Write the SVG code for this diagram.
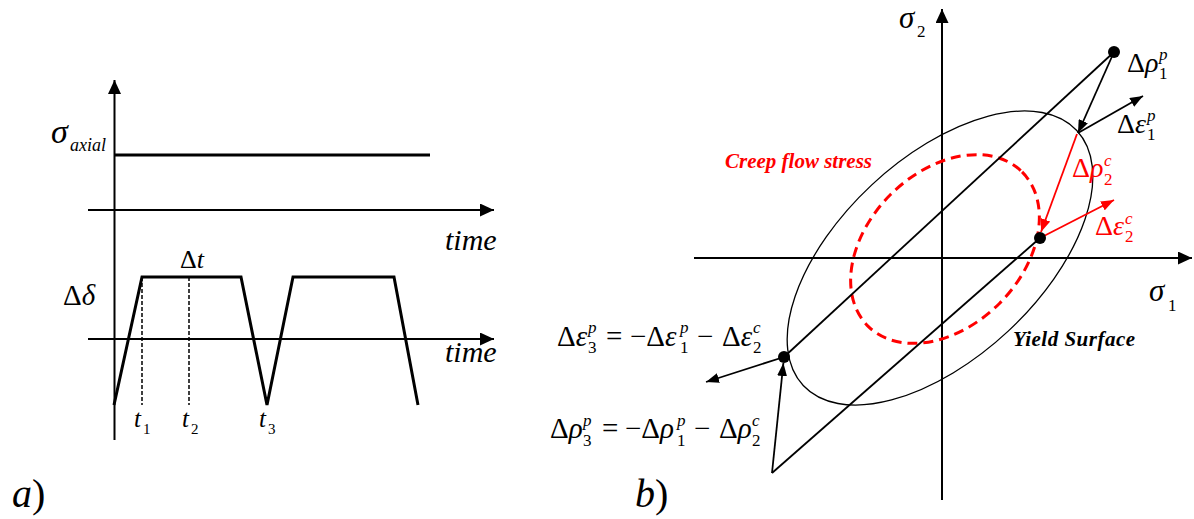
<svg xmlns="http://www.w3.org/2000/svg" width="1194" height="519" viewBox="0 0 1194 519">
<style>
text{font-family:"Liberation Serif","Times New Roman",serif;fill:#000}
.it{font-style:italic}
.ax{stroke:#000;stroke-width:2;fill:none}
.thick{stroke:#000;stroke-width:3;fill:none}
.thin{stroke:#000;stroke-width:1.8;fill:none}
.red{stroke:#ff0000;stroke-width:1.8;fill:none}
.rt{fill:#ff0000}
.sc{font-size:17px}
.eq{font-size:29px}
.lb{font-size:28px}
</style>
<defs>
<marker id="ah" markerUnits="userSpaceOnUse" markerWidth="14" markerHeight="13" refX="14" refY="6.5" orient="auto"><path d="M0,0 L14,6.5 L0,13 z" fill="#000"/></marker>
<marker id="sa" markerUnits="userSpaceOnUse" markerWidth="13" markerHeight="10" refX="13" refY="5" orient="auto"><path d="M0,0 L13,5 L0,10 z" fill="#000"/></marker>
<marker id="ra" markerUnits="userSpaceOnUse" markerWidth="13" markerHeight="10" refX="13" refY="5" orient="auto"><path d="M0,0 L13,5 L0,10 z" fill="#ff0000"/></marker>
</defs>

<g id="panel-a">
  <g id="axes-a">
    <line class="ax" x1="114.5" y1="440" x2="114.5" y2="80" marker-end="url(#ah)"/>
    <line class="ax" x1="88" y1="210" x2="494" y2="210" marker-end="url(#ah)"/>
    <line class="ax" x1="88" y1="339" x2="494" y2="339" marker-end="url(#ah)"/>
  </g>
  <line id="axial-stress" class="thick" x1="114.5" y1="155" x2="430" y2="155"/>
  <polyline id="waveform" class="thick" points="114,405 142,277 241,277 267,405 293,277 394,277 418,405"/>
  <g id="dashes">
    <line x1="142" y1="277" x2="142" y2="405" stroke="#000" stroke-width="1.5" stroke-dasharray="4,2"/>
    <line x1="189" y1="277" x2="189" y2="405" stroke="#000" stroke-width="1.5" stroke-dasharray="4,2"/>
  </g>
  <g id="labels-a">
    <text x="51" y="143" class="it" font-size="34">σ</text>
    <text x="70" y="151" class="it" font-size="18">axial</text>
    <text x="445" y="250" class="it" font-size="30">time</text>
    <text x="445" y="362" class="it" font-size="30">time</text>
    <text x="180" y="268" font-size="26">Δ<tspan class="it">t</tspan></text>
    <text x="63" y="305" font-size="29">Δ<tspan class="it">δ</tspan></text>
    <text x="134" y="427" class="it" font-size="25">t</text><text x="143" y="434" font-size="15">1</text>
    <text x="182" y="427" class="it" font-size="25">t</text><text x="191" y="434" font-size="15">2</text>
    <text x="259" y="427" class="it" font-size="25">t</text><text x="268" y="434" font-size="15">3</text>
    <text x="12" y="507" font-size="40"><tspan class="it">a</tspan>)</text>
  </g>
</g>

<g id="panel-b">
  <g id="axes-b">
    <line class="ax" x1="942" y1="500" x2="942" y2="9" marker-end="url(#ah)"/>
    <line class="ax" x1="694" y1="258" x2="1192" y2="258" marker-end="url(#ah)"/>
  </g>
  <g id="yield-surface">
    <ellipse cx="940" cy="258" rx="187" ry="100" transform="rotate(-43 940 258)" fill="none" stroke="#000" stroke-width="1.3"/>
  </g>
  <g id="creep-surface">
    <ellipse cx="945" cy="249" rx="109" ry="77" transform="rotate(-45 945 249)" fill="none" stroke="#ff0000" stroke-width="3" stroke-dasharray="10,6"/>
  </g>
  <g id="connectors">
    <line class="thin" x1="1114" y1="52" x2="784" y2="357"/>
    <line class="thin" x1="772" y1="473" x2="1040" y2="238"/>
    <line class="thin" x1="772" y1="473" x2="783.4" y2="363" marker-end="url(#sa)"/>
    <line class="thin" x1="784" y1="357" x2="706" y2="382" marker-end="url(#sa)"/>
    <line class="thin" x1="1114" y1="52" x2="1078" y2="133" marker-end="url(#sa)"/>
    <line class="thin" x1="1078" y1="133" x2="1143" y2="96" marker-end="url(#sa)"/>
    <line class="red" x1="1077" y1="134" x2="1041" y2="232" marker-end="url(#ra)"/>
    <line class="red" x1="1040" y1="238" x2="1114" y2="200" marker-end="url(#ra)"/>
  </g>
  <g id="points">
    <circle cx="1114" cy="52" r="6" fill="#000"/>
    <circle cx="1040" cy="238" r="6" fill="#000"/>
    <circle cx="784" cy="357" r="6" fill="#000"/>
  </g>
  <g id="labels-b">
    <text x="899" y="28" class="it" font-size="31">σ</text><text x="917" y="37" class="sc">2</text>
    <text x="1149" y="301" class="it" font-size="31">σ</text><text x="1168" y="311" class="sc">1</text>
    <text x="725" y="168" font-size="21" font-weight="bold" class="it rt">Creep flow stress</text>
    <text x="1013" y="346" font-size="21" font-weight="bold" class="it" letter-spacing="0.5">Yield Surface</text>
    <text class="lb" x="1127" y="72">Δ<tspan class="it">ρ</tspan><tspan class="sc it" x="1159" y="60">p</tspan><tspan class="sc" x="1159" y="79">1</tspan></text>
    <text class="lb" x="1117" y="133">Δ<tspan class="it">ε</tspan><tspan class="sc it" x="1147" y="121">p</tspan><tspan class="sc" x="1147" y="140">1</tspan></text>
    <text class="lb rt" x="1072" y="177">Δ<tspan class="it">ρ</tspan><tspan class="sc it" x="1104" y="166">c</tspan><tspan class="sc" x="1104" y="185">2</tspan></text>
    <text class="lb rt" x="1095" y="235">Δ<tspan class="it">ε</tspan><tspan class="sc it" x="1125" y="224">c</tspan><tspan class="sc" x="1125" y="242">2</tspan></text>
    <text class="eq" y="346"><tspan x="557">Δ</tspan><tspan class="it">ε</tspan><tspan class="sc it" x="588" y="333">p</tspan><tspan class="sc" x="588" y="353">3</tspan><tspan x="606" y="346">=</tspan><tspan x="630" y="346">−Δ</tspan><tspan class="it">ε</tspan><tspan class="sc it" x="680" y="333">p</tspan><tspan class="sc" x="680" y="353">1</tspan><tspan x="697" y="346">−</tspan><tspan x="722" y="346">Δ</tspan><tspan class="it">ε</tspan><tspan class="sc it" x="753" y="333">c</tspan><tspan class="sc" x="753" y="353">2</tspan></text>
    <text class="eq" y="438"><tspan x="550">Δ</tspan><tspan class="it">ρ</tspan><tspan class="sc it" x="583" y="426">p</tspan><tspan class="sc" x="583" y="446">3</tspan><tspan x="602" y="438">=</tspan><tspan x="625" y="438">−Δ</tspan><tspan class="it">ρ</tspan><tspan class="sc it" x="677" y="426">p</tspan><tspan class="sc" x="677" y="446">1</tspan><tspan x="694" y="438">−</tspan><tspan x="719" y="438">Δ</tspan><tspan class="it">ρ</tspan><tspan class="sc it" x="752" y="426">c</tspan><tspan class="sc" x="752" y="446">2</tspan></text>
    <text x="635" y="507" font-size="40"><tspan class="it">b</tspan>)</text>
  </g>
</g>
</svg>
